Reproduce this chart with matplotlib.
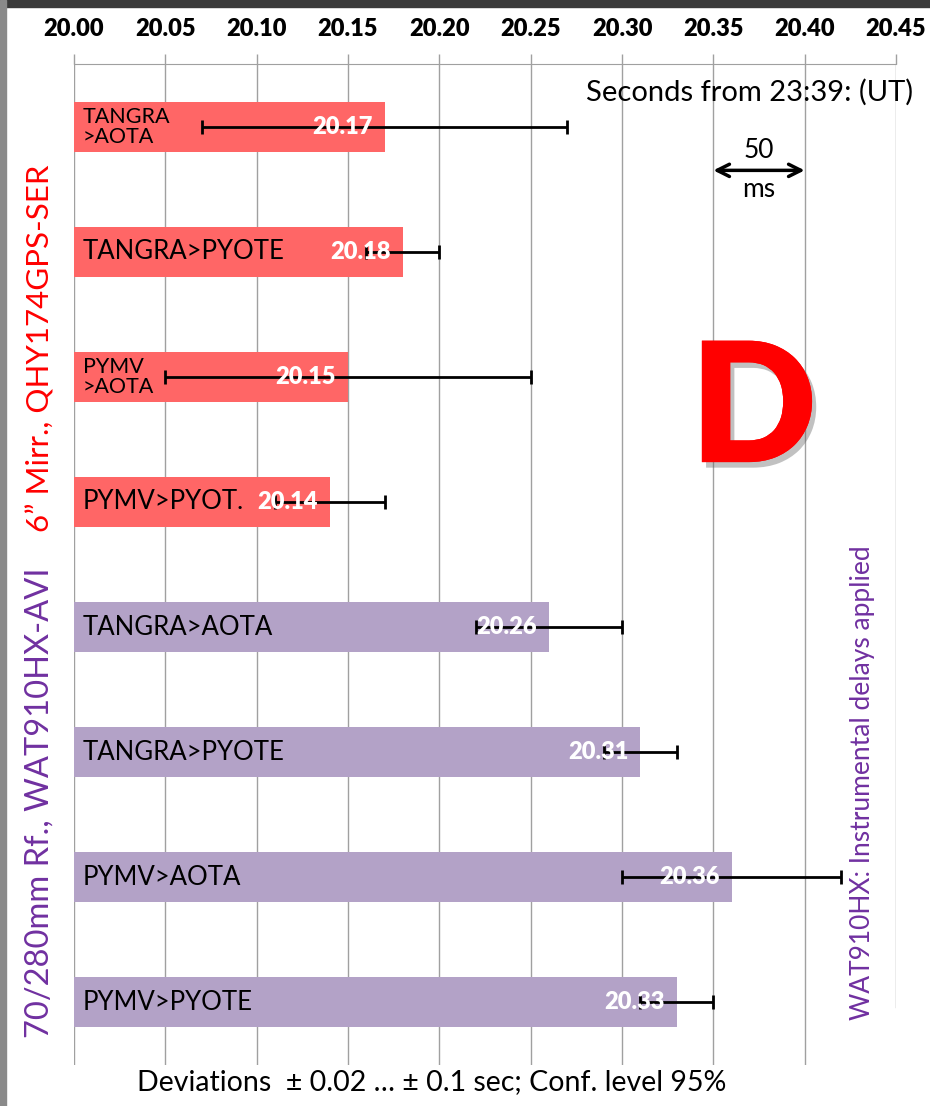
import numpy as np
import matplotlib
matplotlib.use("Agg")
import matplotlib.pyplot as plt
import matplotlib.patheffects as pe
from matplotlib.patches import Rectangle

plt.rcParams['font.family'] = ['Lato', 'DejaVu Sans']

# data
labels = ["TANGRA\n>AOTA", "TANGRA>PYOTE", "PYMV\n>AOTA", "PYMV>PYOT.",
          "TANGRA>AOTA", "TANGRA>PYOTE", "PYMV>AOTA", "PYMV>PYOTE"]
values = [20.17, 20.18, 20.15, 20.14, 20.26, 20.31, 20.36, 20.33]
errors = [0.10, 0.02, 0.10, 0.03, 0.04, 0.02, 0.06, 0.02]
groups = ["QHY", "QHY", "QHY", "QHY", "WAT", "WAT", "WAT", "WAT"]
ticks = [20.00, 20.05, 20.10, 20.15, 20.20, 20.25, 20.30, 20.35, 20.40, 20.45]
base = 20.00

group_colors = {"QHY": "#FF6666", "WAT": "#B3A2C7"}
purple = "#7030A0"

fig = plt.figure(figsize=(9.3, 11.06), dpi=100)
ax = fig.add_axes([74 / 930, 1 - 1065 / 1106, (896 - 74) / 930, (1065 - 64) / 1106])

y = np.arange(len(values))
vals = np.array(values)
ax.barh(y, vals - base, left=base, height=0.4,
        color=[group_colors[g] for g in groups], zorder=2)
ax.errorbar(vals, y, xerr=errors, fmt='none', ecolor='black', elinewidth=2,
            capsize=5, capthick=2, zorder=3)

for yi, v, lab in zip(y, values, labels):
    two = "\n" in lab
    ax.annotate(lab, (base, yi), xytext=(9, 0), textcoords='offset pixels',
                ha='left', va='center', fontsize=15.5 if two else 18.5,
                linespacing=1.0, color='black', zorder=4)
    ax.annotate(f"{v:.2f}", (v, yi), xytext=(-12, 0), textcoords='offset pixels',
                ha='right', va='center', fontsize=17, fontweight='heavy',
                color='white', zorder=4)

ax.set_xlim(ticks[0], ticks[-1])
ax.set_ylim(len(values) - 0.5, -0.5)
ax.set_xticks(ticks)
ax.set_xticklabels([f"{t:.2f}" for t in ticks], fontweight='heavy', fontsize=17)
ax.xaxis.tick_top()
ax.tick_params(axis='x', length=7, width=1, color='#A0A0A0', pad=10)
ax.set_yticks([])
ax.grid(axis='x', color='#A0A0A0', lw=1, zorder=0)
# last gridline stops short of the bottom, as in the original
ax.xaxis.get_gridlines()[-1].set_ydata([(1065 - 1007) / 1001, 1])
for s in ['left', 'right', 'bottom']:
    ax.spines[s].set_visible(False)
ax.spines['top'].set_color('#A0A0A0')

# 50 ms scale arrow
ax.annotate('', xy=(20.40, 0.35), xytext=(20.35, 0.35),
            arrowprops=dict(arrowstyle='<->', lw=2.5, color='black',
                            mutation_scale=22, shrinkA=0, shrinkB=0))
ax.text(20.375, 0.19, "50", ha='center', va='center', fontsize=19)
ax.text(20.375, 0.50, "ms", ha='center', va='center', fontsize=19)

# big "D"
ax.text(20.372, 2.29, "D", ha='center', va='center', fontsize=120,
        fontweight='heavy', color='#FF0000', zorder=5,
        path_effects=[pe.withSimplePatchShadow(offset=(3, -4), shadow_rgbFace='#666666', alpha=0.4),
                      pe.Normal()])

fig.text(913 / 930, 1 - 92 / 1106, "Seconds from 23:39: (UT)", ha='right',
         va='center', fontsize=21)
fig.text(40 / 930, 1 - 348 / 1106, "6\u201d Mirr., QHY174GPS-SER", rotation=90,
         ha='center', va='center', fontsize=22.5, color='#FF0000')
fig.text(40 / 930, 1 - 803 / 1106, "70/280mm Rf., WAT910HX-AVI", rotation=90,
         ha='center', va='center', fontsize=23.5, color=purple)
fig.text(862 / 930, 1 - 783 / 1106, "WAT910HX: Instrumental delays applied",
         rotation=90, ha='center', va='center', fontsize=19, color=purple)
fig.text(432 / 930, 1 - 1082 / 1106,
         "Deviations  \u00b1 0.02 \u2026 \u00b1 0.1 sec; Conf. level 95%",
         ha='center', va='center', fontsize=20.5)

# screenshot frame
fig.patches.append(Rectangle((0, 1 - 7 / 1106), 1, 7 / 1106, transform=fig.transFigure,
                             color='#3a3a3a', zorder=10))
fig.patches.append(Rectangle((0, 0), 6 / 930, 1, transform=fig.transFigure,
                             color='#8a8a8a', zorder=10))

fig.savefig("out.png", dpi=100)
